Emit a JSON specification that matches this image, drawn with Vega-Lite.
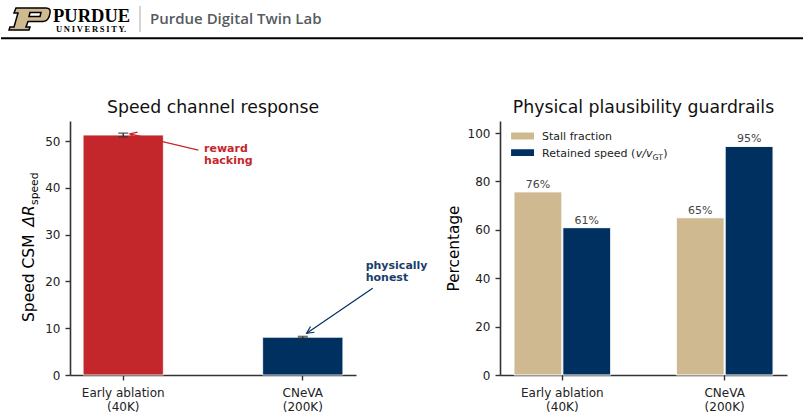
{
  "$schema": "https://vega.github.io/schema/vega-lite/v6.json",
  "padding": 0,
  "background": "white",
  "bounds": "flush",
  "spacing": 81,
  "config": {
    "font": "DejaVu Sans",
    "view": {"stroke": null},
    "axis": {
      "domainColor": "#333333", "domainWidth": 1.6,
      "tickColor": "#333333", "tickWidth": 1.4, "tickSize": 5,
      "labelColor": "#222222", "labelFontSize": 12, "labelPadding": 5,
      "grid": false, "titleFontWeight": "normal", "titleColor": "#000000", "titleFontSize": 15.3
    },
    "axisX": {"labelLineHeight": 14, "labelPadding": 7},
    "title": {"fontSize": 17.3, "fontWeight": "normal", "color": "#111111", "offset": 5, "frame": "group"}
  },
  "datasets": {
    "speed": [
      {"model": "Early ablation (40K)", "delta": 51.3, "err_lo": 50.9, "err_hi": 51.7},
      {"model": "CNeVA (200K)", "delta": 8.07, "err_lo": 7.9, "err_hi": 8.25}
    ],
    "guard": [
      {"model": "Early ablation (40K)", "metric": "Stall fraction", "pct": 75.7, "label": "76%"},
      {"model": "Early ablation (40K)", "metric": "Retained speed", "pct": 60.9, "label": "61%"},
      {"model": "CNeVA (200K)", "metric": "Stall fraction", "pct": 65.0, "label": "65%"},
      {"model": "CNeVA (200K)", "metric": "Retained speed", "pct": 94.5, "label": "95%"}
    ]
  },
  "vconcat": [
    {
      "width": 734,
      "height": 40,
      "data": {"values": [{}]},
      "layer": [
        {"mark": {"type": "rect", "fill": "white"}, "encoding": {"x": {"value": -70}, "x2": {"value": 734}, "y": {"value": 0}, "y2": {"value": 40}}},
        {"mark": {"type": "point", "shape": "M-0.619,-0.524L0.81,-0.524Q1.048,-0.524,1,-0.286Q0.952,0.095,0.667,0.119L-0.048,0.119L-0.143,0.381L0.048,0.381L0,0.524L-0.952,0.524L-0.905,0.381L-0.714,0.381L-0.524,-0.286L-0.714,-0.286ZM0.048,-0.31L0,-0.119L0.524,-0.119L0.571,-0.31Z", "size": 1764, "filled": true, "fill": "#CFB991", "stroke": "#000000", "strokeWidth": 1.5, "opacity": 1}, "encoding": {"x": {"value": -41}, "y": {"value": 19}}},
        {"mark": {"type": "text", "text": "PURDUE", "font": "Liberation Serif", "fontWeight": "bold", "fontSize": 18.5, "align": "left", "baseline": "alphabetic", "color": "#000000"}, "encoding": {"x": {"value": -17}, "y": {"value": 21.5}}},
        {"mark": {"type": "text", "text": "U\u2009N\u2009I\u2009V\u2009E\u2009R\u2009S\u2009I\u2009T\u2009Y.", "font": "Liberation Serif", "fontWeight": "bold", "fontSize": 8.5, "align": "left", "baseline": "alphabetic", "color": "#000000"}, "encoding": {"x": {"value": -14}, "y": {"value": 31.5}}},
        {"mark": {"type": "rule", "color": "#aaaaaa", "strokeWidth": 1}, "encoding": {"x": {"value": 70}, "y": {"value": 6}, "y2": {"value": 32}}},
        {"mark": {"type": "text", "text": "Purdue Digital Twin Lab", "font": "Open Sans", "fontWeight": 600, "fontSize": 15, "align": "left", "baseline": "alphabetic", "color": "#555b61"}, "encoding": {"x": {"value": 80}, "y": {"value": 24}}},
        {"mark": {"type": "rule", "color": "#000000", "strokeWidth": 2}, "encoding": {"x": {"value": -69}, "x2": {"value": 733}, "y": {"value": 38.3}}}
      ]
    },
    {
      "bounds": "flush",
      "spacing": 144,
      "resolve": {"scale": {"color": "independent"}},
      "hconcat": [
        {
          "width": 286,
          "height": 254,
          "title": {"text": "Speed channel response"},
          "layer": [
            {
              "data": {"name": "speed"},
              "layer": [
                {
                  "mark": {"type": "bar", "stroke": "white", "strokeWidth": 1, "strokeOpacity": 0.8},
                  "encoding": {
                    "x": {"field": "model", "type": "nominal", "sort": null, "scale": {"paddingInner": 0.553, "paddingOuter": 0.073},
                          "axis": {"title": null, "labelAngle": 0, "labelExpr": "[slice(datum.label, 0, indexof(datum.label, ' (')), slice(datum.label, indexof(datum.label, ' (') + 1)]"}},
                    "y": {"field": "delta", "type": "quantitative", "scale": {"domain": [0, 54.3], "nice": false},
                          "axis": {"title": null, "values": [0, 10, 20, 30, 40, 50]}},
                    "color": {"field": "model", "type": "nominal", "sort": null, "scale": {"domain": ["Early ablation (40K)", "CNeVA (200K)"], "range": ["#C4272B", "#00305F"]}, "legend": null}
                  }
                },
                {
                  "mark": {"type": "rule", "color": "#333333", "strokeWidth": 1.5},
                  "encoding": {
                    "x": {"field": "model", "type": "nominal", "sort": null},
                    "y": {"field": "err_lo", "type": "quantitative", "title": null, "scale": {"domain": [0, 54.3], "nice": false}},
                    "y2": {"field": "err_hi"}
                  }
                },
                {
                  "mark": {"type": "tick", "color": "#333333", "thickness": 1.5, "size": 10},
                  "encoding": {
                    "x": {"field": "model", "type": "nominal", "sort": null},
                    "y": {"field": "err_lo", "type": "quantitative", "title": null, "scale": {"domain": [0, 54.3], "nice": false}}
                  }
                },
                {
                  "mark": {"type": "tick", "color": "#333333", "thickness": 1.5, "size": 10},
                  "encoding": {
                    "x": {"field": "model", "type": "nominal", "sort": null},
                    "y": {"field": "err_hi", "type": "quantitative", "title": null, "scale": {"domain": [0, 54.3], "nice": false}}
                  }
                }
              ]
            },
            {
              "data": {"values": [{}]},
              "layer": [
                {
                  "mark": {"type": "rule", "color": "#C4272B", "strokeWidth": 1.2},
                  "encoding": {
                    "x": {"datum": 0.421, "type": "quantitative", "scale": {"domain": [-0.296, 1.302], "nice": false, "zero": false}, "axis": null},
                    "y": {"datum": 48.08, "type": "quantitative", "scale": {"domain": [0, 54.3], "nice": false}},
                    "x2": {"datum": 0.039},
                    "y2": {"datum": 51.54}
                  }
                },
                {
                  "mark": {"type": "point", "shape": "M-0.5,1L0,0L0.5,1", "filled": false, "strokeWidth": 1.2, "size": 196, "angle": 283.3, "color": "#C4272B", "opacity": 1},
                  "encoding": {
                    "x": {"datum": 0.039, "type": "quantitative", "scale": {"domain": [-0.296, 1.302], "nice": false, "zero": false}, "axis": null},
                    "y": {"datum": 51.54, "type": "quantitative", "scale": {"domain": [0, 54.3], "nice": false}}
                  }
                },
                {
                  "mark": {"type": "rule", "color": "#00305F", "strokeWidth": 1.2},
                  "encoding": {
                    "x": {"datum": 1.395, "type": "quantitative", "scale": {"domain": [-0.296, 1.302], "nice": false, "zero": false}, "axis": null},
                    "y": {"datum": 18.53, "type": "quantitative", "scale": {"domain": [0, 54.3], "nice": false}},
                    "x2": {"datum": 1.0264},
                    "y2": {"datum": 8.91}
                  }
                },
                {
                  "mark": {"type": "point", "shape": "M-0.5,1L0,0L0.5,1", "filled": false, "strokeWidth": 1.2, "size": 196, "angle": 235.7, "color": "#00305F", "opacity": 1},
                  "encoding": {
                    "x": {"datum": 1.0264, "type": "quantitative", "scale": {"domain": [-0.296, 1.302], "nice": false, "zero": false}, "axis": null},
                    "y": {"datum": 8.91, "type": "quantitative", "scale": {"domain": [0, 54.3], "nice": false}}
                  }
                },
                {
                  "mark": {"type": "text", "text": "reward\nhacking", "lineBreak": "\n", "lineHeight": 11.5, "align": "left", "baseline": "top", "fontWeight": "bold", "fontSize": 11, "color": "#C4272B"},
                  "encoding": {
                    "x": {"datum": 0.453, "type": "quantitative", "scale": {"domain": [-0.296, 1.302], "nice": false, "zero": false}, "axis": null},
                    "y": {"datum": 49.57, "type": "quantitative", "scale": {"domain": [0, 54.3], "nice": false}}
                  }
                },
                {
                  "mark": {"type": "text", "text": "physically\nhonest", "lineBreak": "\n", "lineHeight": 11.5, "align": "left", "baseline": "top", "fontWeight": "bold", "fontSize": 11, "color": "#1A3D6D"},
                  "encoding": {
                    "x": {"datum": 1.356, "type": "quantitative", "scale": {"domain": [-0.296, 1.302], "nice": false, "zero": false}, "axis": null},
                    "y": {"datum": 24.5, "type": "quantitative", "scale": {"domain": [0, 54.3], "nice": false}}
                  }
                },
                {
                  "mark": {"type": "text", "text": "Speed CSM", "angle": 270, "align": "left", "baseline": "alphabetic", "dx": -74, "dy": -36, "fontSize": 15.5, "color": "#000000"},
                  "encoding": {
                    "x": {"datum": -0.296, "type": "quantitative", "scale": {"domain": [-0.296, 1.302], "nice": false, "zero": false}, "axis": null},
                    "y": {"datum": 27.15, "type": "quantitative", "scale": {"domain": [0, 54.3], "nice": false}}
                  }
                },
                {
                  "mark": {"type": "text", "text": "ΔR", "fontStyle": "italic", "angle": 270, "align": "left", "baseline": "alphabetic", "dx": 21.5, "dy": -36, "fontSize": 15.5, "color": "#000000"},
                  "encoding": {
                    "x": {"datum": -0.296, "type": "quantitative", "scale": {"domain": [-0.296, 1.302], "nice": false, "zero": false}, "axis": null},
                    "y": {"datum": 27.15, "type": "quantitative", "scale": {"domain": [0, 54.3], "nice": false}}
                  }
                },
                {
                  "mark": {"type": "text", "text": "speed", "angle": 270, "align": "left", "baseline": "alphabetic", "dx": 43, "dy": -32.5, "fontSize": 10.8, "color": "#000000"},
                  "encoding": {
                    "x": {"datum": -0.296, "type": "quantitative", "scale": {"domain": [-0.296, 1.302], "nice": false, "zero": false}, "axis": null},
                    "y": {"datum": 27.15, "type": "quantitative", "scale": {"domain": [0, 54.3], "nice": false}}
                  }
                }
              ]
            }
          ],
          "resolve": {"scale": {"x": "independent"}}
        },
        {
          "width": 287,
          "height": 254,
          "title": {"text": "Physical plausibility guardrails"},
          "layer": [
            {
              "data": {"name": "guard"},
              "layer": [
                {
                  "mark": {"type": "bar", "stroke": "white", "strokeWidth": 1},
                  "encoding": {
                    "x": {"field": "model", "type": "nominal", "sort": null, "scale": {"paddingInner": 0.404, "paddingOuter": 0.086},
                          "axis": {"title": null, "labelAngle": 0, "labelExpr": "[slice(datum.label, 0, indexof(datum.label, ' (')), slice(datum.label, indexof(datum.label, ' (') + 1)]"}},
                    "xOffset": {"field": "metric", "type": "nominal", "sort": ["Stall fraction", "Retained speed"], "scale": {"paddingInner": 0.02, "paddingOuter": 0}},
                    "y": {"field": "pct", "type": "quantitative", "scale": {"domain": [0, 105], "nice": false},
                          "axis": {"title": "Percentage", "values": [0, 20, 40, 60, 80, 100], "titlePadding": 6}},
                    "color": {"field": "metric", "type": "nominal", "scale": {"domain": ["Stall fraction", "Retained speed"], "range": ["#CFB991", "#00305F"]}, "legend": null}
                  }
                },
                {
                  "mark": {"type": "text", "baseline": "alphabetic", "dy": -4, "fontSize": 11, "color": "#444444"},
                  "encoding": {
                    "x": {"field": "model", "type": "nominal", "sort": null},
                    "xOffset": {"field": "metric", "type": "nominal", "sort": ["Stall fraction", "Retained speed"]},
                    "y": {"field": "pct", "type": "quantitative"},
                    "text": {"field": "label"}
                  }
                }
              ]
            },
            {
              "data": {"values": [{}]},
              "layer": [
                {
                  "mark": {"type": "rect", "color": "#CFB991"},
                  "encoding": {
                    "x": {"datum": -0.316, "type": "quantitative", "scale": {"domain": [-0.384, 1.379], "nice": false, "zero": false}, "axis": null},
                    "x2": {"datum": -0.175},
                    "y": {"datum": 100.2, "type": "quantitative", "scale": {"domain": [0, 105], "nice": false}},
                    "y2": {"datum": 97.4}
                  }
                },
                {
                  "mark": {"type": "rect", "color": "#00305F"},
                  "encoding": {
                    "x": {"datum": -0.316, "type": "quantitative", "scale": {"domain": [-0.384, 1.379], "nice": false, "zero": false}, "axis": null},
                    "x2": {"datum": -0.175},
                    "y": {"datum": 93.3, "type": "quantitative", "scale": {"domain": [0, 105], "nice": false}},
                    "y2": {"datum": 90.5}
                  }
                },
                {
                  "mark": {"type": "text", "text": "Stall fraction", "align": "left", "baseline": "alphabetic", "fontSize": 11, "color": "#222222"},
                  "encoding": {
                    "x": {"datum": -0.126, "type": "quantitative", "scale": {"domain": [-0.384, 1.379], "nice": false, "zero": false}, "axis": null},
                    "y": {"datum": 97.15, "type": "quantitative", "scale": {"domain": [0, 105], "nice": false}}
                  }
                },
                {
                  "mark": {"type": "text", "text": "Retained speed (", "align": "left", "baseline": "alphabetic", "fontSize": 11, "color": "#222222"},
                  "encoding": {
                    "x": {"datum": -0.126, "type": "quantitative", "scale": {"domain": [-0.384, 1.379], "nice": false, "zero": false}, "axis": null},
                    "y": {"datum": 90.1, "type": "quantitative", "scale": {"domain": [0, 105], "nice": false}}
                  }
                },
                {
                  "mark": {"type": "text", "text": "v/v", "fontStyle": "italic", "dx": 93.8, "align": "left", "baseline": "alphabetic", "fontSize": 11, "color": "#222222"},
                  "encoding": {
                    "x": {"datum": -0.126, "type": "quantitative", "scale": {"domain": [-0.384, 1.379], "nice": false, "zero": false}, "axis": null},
                    "y": {"datum": 90.1, "type": "quantitative", "scale": {"domain": [0, 105], "nice": false}}
                  }
                },
                {
                  "mark": {"type": "text", "text": "GT", "dx": 110.5, "dy": 2.5, "align": "left", "baseline": "alphabetic", "fontSize": 7.7, "color": "#222222"},
                  "encoding": {
                    "x": {"datum": -0.126, "type": "quantitative", "scale": {"domain": [-0.384, 1.379], "nice": false, "zero": false}, "axis": null},
                    "y": {"datum": 90.1, "type": "quantitative", "scale": {"domain": [0, 105], "nice": false}}
                  }
                },
                {
                  "mark": {"type": "text", "text": ")", "dx": 121.2, "align": "left", "baseline": "alphabetic", "fontSize": 11, "color": "#222222"},
                  "encoding": {
                    "x": {"datum": -0.126, "type": "quantitative", "scale": {"domain": [-0.384, 1.379], "nice": false, "zero": false}, "axis": null},
                    "y": {"datum": 90.1, "type": "quantitative", "scale": {"domain": [0, 105], "nice": false}}
                  }
                }
              ]
            }
          ],
          "resolve": {"scale": {"x": "independent"}}
        }
      ]
    }
  ]
}
